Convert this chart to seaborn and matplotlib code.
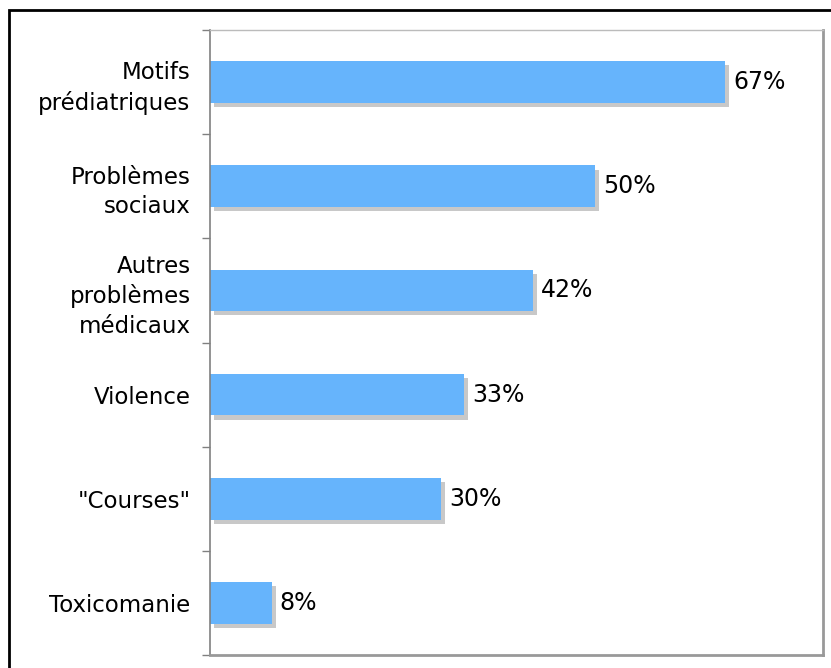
import matplotlib
matplotlib.use("Agg")
import matplotlib.pyplot as plt
import matplotlib.patheffects as pe
from matplotlib.patches import Rectangle
import seaborn as sns
import pandas as pd
import numpy as np

# data
categories = ["Motifs\nprédiatriques", "Problèmes\nsociaux", "Autres\nproblèmes\nmédicaux",
              "Violence", "\"Courses\"", "Toxicomanie"]
values = [67, 50, 42, 33, 30, 8]
value_labels = ["67%", "50%", "42%", "33%", "30%", "8%"]

df = pd.DataFrame({"cat": categories, "val": values})

sns.set_theme(style="white")
plt.rcParams["font.family"] = ["DejaVu Sans"]

fig = plt.figure(figsize=(8.31, 6.68), dpi=100)
ax = fig.add_axes([210 / 831, 1 - 655 / 668, 613 / 831, 625 / 668])

sns.barplot(data=df, x="val", y="cat", orient="h", color="#66b4fc",
            saturation=1, width=0.4, ax=ax)

# drop shadow under each bar
for p in ax.patches:
    p.set_edgecolor("none")
    p.set_path_effects([pe.SimplePatchShadow(offset=(3, -3), shadow_rgbFace="#c8c8c8", alpha=1),
                        pe.Normal()])

for i, (v, lab) in enumerate(zip(values, value_labels)):
    ax.annotate(lab, xy=(v, i), xytext=(6, 0), textcoords="offset points",
                ha="left", va="center", fontsize=17, color="black")

ax.set_xlim(0, 79.7)
ax.set_ylim(5.5, -0.5)
ax.set_xlabel("")
ax.set_ylabel("")
ax.set_xticks([])
ax.set_yticks(range(len(categories)))
ax.set_yticklabels(categories, fontsize=16.5, color="black", ha="right", linespacing=1.35)
ax.tick_params(axis="y", which="major", length=0, pad=14)
ax.set_yticks(np.arange(-0.5, 6, 1), minor=True)
ax.tick_params(axis="y", which="minor", length=6, width=1, color="#808080", left=True)

ax.spines["left"].set_color("#808080")
ax.spines["left"].set_linewidth(1.2)
ax.spines["top"].set_color("#bbbbbb")
ax.spines["top"].set_linewidth(1)
ax.spines["right"].set_color("#999999")
ax.spines["right"].set_linewidth(2)
ax.spines["bottom"].set_color("#999999")
ax.spines["bottom"].set_linewidth(2)

# outer black frame (cropped on right/bottom in the reference)
fig.patches.append(Rectangle((9 / 831, -0.05), 1.1, 1 - 10 / 668 + 0.05,
                             transform=fig.transFigure, fill=False,
                             edgecolor="black", linewidth=2, zorder=0))

fig.savefig("out.png", dpi=100)
